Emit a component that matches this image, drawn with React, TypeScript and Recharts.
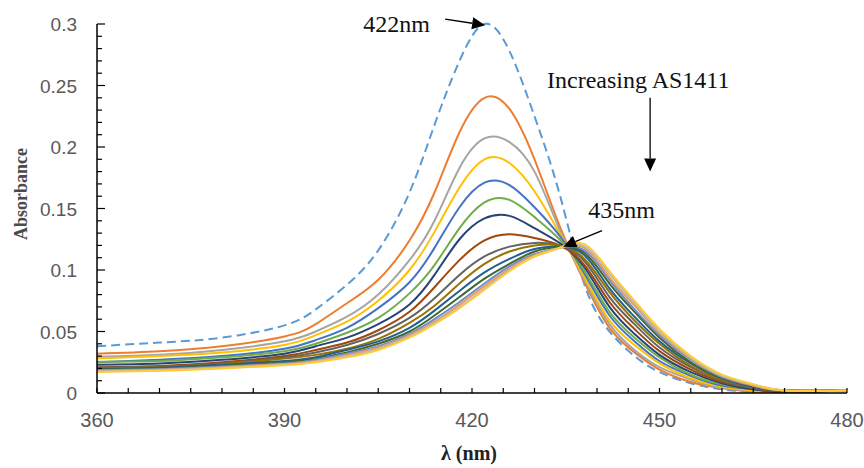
import React from 'react';
import { LineChart, Line, XAxis, YAxis, ReferenceLine, ReferenceDot } from 'recharts';

// wavelength grid (nm)
const wavelengths = [360, 370, 380, 390, 395, 400, 405, 410, 414, 418, 422, 426, 430, 434, 438, 442, 446, 450, 455, 460, 465, 470, 480];

// absorbance per titration step (first = free, dashed)
const s0 = [0.038, 0.041, 0.045, 0.055, 0.068, 0.088, 0.116, 0.163, 0.218, 0.270, 0.300, 0.278, 0.225, 0.162, 0.088, 0.050, 0.030, 0.017, 0.008, 0.003, 0.001, 0.001, 0.002];
const s1 = [0.032, 0.034, 0.038, 0.046, 0.056, 0.073, 0.092, 0.124, 0.163, 0.212, 0.240, 0.231, 0.190, 0.136, 0.090, 0.053, 0.033, 0.019, 0.009, 0.004, 0.001, 0.001, 0.002];
const s2 = [0.0295, 0.031, 0.035, 0.042, 0.050, 0.062, 0.080, 0.108, 0.140, 0.183, 0.207, 0.204, 0.180, 0.133, 0.092, 0.056, 0.035, 0.021, 0.011, 0.004, 0.002, 0.001, 0.002];
const s3 = [0.028, 0.030, 0.033, 0.039, 0.047, 0.058, 0.075, 0.100, 0.131, 0.167, 0.190, 0.187, 0.164, 0.130, 0.094, 0.059, 0.039, 0.024, 0.012, 0.005, 0.002, 0.001, 0.002];
const s4 = [0.025, 0.027, 0.030, 0.036, 0.043, 0.053, 0.069, 0.090, 0.118, 0.151, 0.171, 0.169, 0.151, 0.128, 0.097, 0.063, 0.042, 0.026, 0.014, 0.006, 0.003, 0.001, 0.002];
const s5 = [0.0255, 0.026, 0.029, 0.034, 0.040, 0.049, 0.061, 0.081, 0.104, 0.134, 0.155, 0.157, 0.143, 0.125, 0.099, 0.066, 0.045, 0.029, 0.015, 0.007, 0.003, 0.001, 0.002];
const s6 = [0.023, 0.024, 0.027, 0.032, 0.038, 0.045, 0.056, 0.072, 0.096, 0.125, 0.142, 0.144, 0.134, 0.122, 0.102, 0.070, 0.048, 0.031, 0.017, 0.008, 0.003, 0.001, 0.002];
const s7 = [0.021, 0.022, 0.025, 0.030, 0.035, 0.041, 0.051, 0.066, 0.086, 0.108, 0.124, 0.129, 0.126, 0.120, 0.104, 0.074, 0.052, 0.034, 0.019, 0.009, 0.004, 0.001, 0.002];
const s8 = [0.0205, 0.0215, 0.024, 0.029, 0.033, 0.039, 0.048, 0.061, 0.077, 0.096, 0.111, 0.119, 0.122, 0.120, 0.107, 0.078, 0.056, 0.037, 0.021, 0.010, 0.004, 0.002, 0.002];
const s9 = [0.020, 0.021, 0.0235, 0.028, 0.031, 0.036, 0.044, 0.057, 0.071, 0.089, 0.105, 0.115, 0.120, 0.120, 0.109, 0.082, 0.059, 0.040, 0.022, 0.011, 0.005, 0.002, 0.002];
const s10 = [0.0195, 0.0205, 0.023, 0.026, 0.029, 0.035, 0.042, 0.053, 0.067, 0.083, 0.098, 0.109, 0.117, 0.119, 0.112, 0.085, 0.062, 0.042, 0.024, 0.012, 0.005, 0.002, 0.002];
const s11 = [0.019, 0.020, 0.022, 0.025, 0.028, 0.033, 0.040, 0.050, 0.063, 0.078, 0.093, 0.105, 0.115, 0.119, 0.114, 0.089, 0.066, 0.045, 0.025, 0.012, 0.006, 0.002, 0.002];
const s12 = [0.0185, 0.0195, 0.0215, 0.024, 0.027, 0.032, 0.038, 0.048, 0.060, 0.074, 0.089, 0.103, 0.113, 0.118, 0.116, 0.092, 0.068, 0.047, 0.027, 0.013, 0.006, 0.002, 0.002];
const s13 = [0.018, 0.019, 0.021, 0.0235, 0.026, 0.031, 0.037, 0.047, 0.058, 0.072, 0.087, 0.101, 0.112, 0.118, 0.118, 0.094, 0.071, 0.049, 0.028, 0.014, 0.006, 0.002, 0.002];
const s14 = [0.0175, 0.0185, 0.0205, 0.023, 0.0255, 0.030, 0.036, 0.046, 0.057, 0.070, 0.085, 0.100, 0.111, 0.118, 0.119, 0.097, 0.073, 0.050, 0.029, 0.014, 0.007, 0.002, 0.002];
const s15 = [0.017, 0.018, 0.020, 0.0225, 0.025, 0.029, 0.035, 0.045, 0.056, 0.069, 0.084, 0.099, 0.111, 0.118, 0.121, 0.099, 0.075, 0.052, 0.030, 0.015, 0.007, 0.002, 0.002];

const seriesList = [s0, s1, s2, s3, s4, s5, s6, s7, s8, s9, s10, s11, s12, s13, s14, s15];
const colors = ['#5B9BD5', '#ED7D31', '#A5A5A5', '#FFC000', '#4472C4', '#70AD47', '#264478', '#9E480E',
  '#636363', '#997300', '#255E91', '#43682B', '#698ED0', '#F1975A', '#B7B7B7', '#FFCD33'];

const xTicks = [360, 365, 370, 375, 380, 385, 390, 395, 400, 405, 410, 415, 420, 425, 430, 435, 440, 445, 450, 455, 460, 465, 470, 475, 480];
const yTicks = [0, 0.01, 0.02, 0.03, 0.04, 0.05, 0.06, 0.07, 0.08, 0.09, 0.1, 0.11, 0.12, 0.13, 0.14, 0.15,
  0.16, 0.17, 0.18, 0.19, 0.2, 0.21, 0.22, 0.23, 0.24, 0.25, 0.26, 0.27, 0.28, 0.29, 0.3];

const data = wavelengths.map((w, i) => {
  const row: Record<string, number> = { nm: w };
  seriesList.forEach((s, k) => { row['s' + k] = s[i]; });
  return row;
});

const labelFont = 'Liberation Sans, Arial, sans-serif';
const serif = 'Liberation Serif, Times New Roman, serif';

const XTick = (props: any) => {
  const { x, y, payload } = props;
  const v = payload.value;
  return (
    <g>
      <line x1={x} y1={y} x2={x} y2={y - 5} stroke="#000" strokeWidth={1.2} />
      {v % 30 === 0 && (
        <text x={x} y={y + 34} textAnchor="middle" fill="#595959" fontSize={20} fontFamily={labelFont}>{v}</text>
      )}
    </g>
  );
};

const YTick = (props: any) => {
  const { x, y, payload } = props;
  const v = payload.value;
  const major = Math.round(v * 100) % 5 === 0;
  return (
    <g>
      <line x1={x} y1={y} x2={x + (major ? 8 : 5)} y2={y} stroke="#000" strokeWidth={1.2} />
      {major && (
        <text x={x - 20} y={y + 7} textAnchor="end" fill="#595959" fontSize={19} fontFamily={labelFont}>{String(v)}</text>
      )}
    </g>
  );
};

const arrow = (props: any) => {
  const { x1, y1, x2, y2 } = props;
  const a = Math.atan2(y2 - y1, x2 - x1);
  const L = 13, W = 6;
  const bx = x2 - L * Math.cos(a), by = y2 - L * Math.sin(a);
  const pts = `${x2},${y2} ${bx + W * Math.sin(a)},${by - W * Math.cos(a)} ${bx - W * Math.sin(a)},${by + W * Math.cos(a)}`;
  return (
    <g>
      <line x1={x1} y1={y1} x2={bx} y2={by} stroke="#000" strokeWidth={1.3} />
      <polygon points={pts} fill="#000" />
    </g>
  );
};

const note = (txt: string) => (p: any) => (
  <text x={p.cx} y={p.cy} fontSize={24} fontFamily={serif} fill="#111">{txt}</text>
);

export default function App() {
  return (
    <div style={{ position: 'absolute', left: 0, top: 0, width: 864, height: 468, background: '#fff' }}>
      <LineChart width={864} height={468} data={data} margin={{ top: 24, right: 17, left: 0, bottom: 0 }}>
        <XAxis
          dataKey="nm"
          type="number"
          domain={[360, 480]}
          ticks={xTicks}
          interval={0}
          height={75}
          tickSize={0}
          tickMargin={0}
          tickLine={false}
          tick={XTick}
          axisLine={{ stroke: '#000', strokeWidth: 1.5 }}
          label={(p: any) => (
            <text x={469} y={460} textAnchor="middle" fontSize={20} fontWeight="bold" fontFamily={serif} fill="#222">λ (nm)</text>
          )}
        />
        <YAxis
          type="number"
          domain={[0, 0.3]}
          ticks={yTicks}
          interval={0}
          width={97}
          tickSize={0}
          tickMargin={0}
          tickLine={false}
          tick={YTick}
          axisLine={{ stroke: '#000', strokeWidth: 1.5 }}
          label={(p: any) => (
            <text x={27} y={194} transform="rotate(-90, 27, 194)" textAnchor="middle" fontSize={18} fontWeight="bold" fontFamily={serif} fill="#4a4a4a">Absorbance</text>
          )}
        />
        {seriesList.map((_, k) => (
          <Line
            key={k}
            type="natural"
            dataKey={'s' + k}
            stroke={colors[k]}
            strokeWidth={2}
            strokeDasharray={k === 0 ? '9 5' : undefined}
            dot={false}
            activeDot={false}
            isAnimationActive={false}
          />
        ))}
        <ReferenceLine segment={[{ x: 415.7, y: 0.304 }, { x: 422.1, y: 0.299 }]} ifOverflow="visible" shape={arrow} />
        <ReferenceLine segment={[{ x: 448.5, y: 0.240 }, { x: 448.5, y: 0.180 }]} ifOverflow="visible" shape={arrow} />
        <ReferenceLine segment={[{ x: 440.8, y: 0.132 }, { x: 434.6, y: 0.119 }]} ifOverflow="visible" shape={arrow} />
        <ReferenceDot x={402.6} y={0.2935} r={0} ifOverflow="visible" shape={note('422nm')} />
        <ReferenceDot x={432} y={0.248} r={0} ifOverflow="visible" shape={note('Increasing AS1411')} />
        <ReferenceDot x={438.6} y={0.142} r={0} ifOverflow="visible" shape={note('435nm')} />
      </LineChart>
    </div>
  );
}
